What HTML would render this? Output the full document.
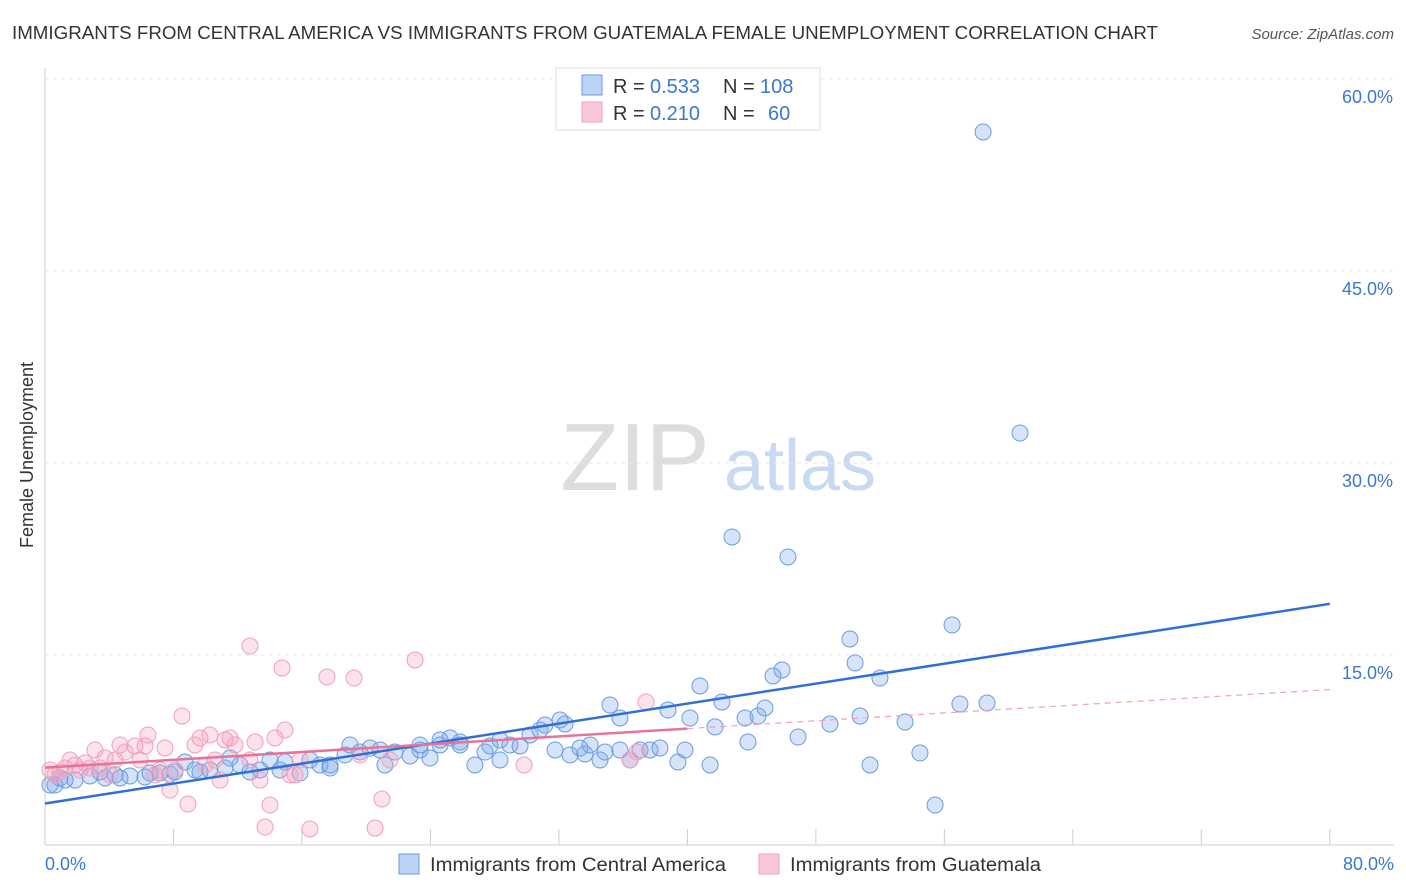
<!DOCTYPE html>
<html><head><meta charset="utf-8">
<style>
body{margin:0;background:#fff;font-family:"Liberation Sans",sans-serif;}
#wrap{position:relative;width:1406px;height:892px;overflow:hidden;}
svg text{font-family:"Liberation Sans",sans-serif;}
</style></head>
<body>
<div id="wrap">
<svg id="chart" width="1406" height="892">
<text x="12" y="39" font-size="18" fill="#333" textLength="1146" lengthAdjust="spacingAndGlyphs">IMMIGRANTS FROM CENTRAL AMERICA VS IMMIGRANTS FROM GUATEMALA FEMALE UNEMPLOYMENT CORRELATION CHART</text>
<text x="1394" y="39" font-size="15" fill="#555" font-style="italic" text-anchor="end">Source: ZipAtlas.com</text>
<text x="33" y="455" font-size="18" fill="#333" text-anchor="middle" transform="rotate(-90 33 455)">Female Unemployment</text>
<g><text x="635" y="490" font-size="96" fill="#ddd" font-family="Liberation Serif" text-anchor="middle">ZIP</text><text x="800" y="490" font-size="72" fill="#c8daf2" text-anchor="middle">atlas</text></g>
<g id="grid"></g><g id="marks"></g><g id="lines"></g>
<g>
<rect x="556" y="68" width="264" height="62" fill="#fff" stroke="#ddd"/>
<rect x="582" y="75" width="20" height="20" fill="#bcd3f5" stroke="#6b9be0"/>
<rect x="582" y="102" width="20" height="20" fill="#f9c8d6" stroke="#f0a0b8"/>
<text x="613" y="93" font-size="20" fill="#333">R =</text><text x="650" y="93" font-size="20" fill="#3a78d4">0.533</text>
<text x="723" y="93" font-size="20" fill="#333">N =</text><text x="760" y="93" font-size="20" fill="#3a78d4">108</text>
<text x="613" y="120" font-size="20" fill="#333">R =</text><text x="650" y="120" font-size="20" fill="#3a78d4">0.210</text>
<text x="723" y="120" font-size="20" fill="#333">N =</text><text x="768" y="120" font-size="20" fill="#3a78d4">60</text>
</g>
<g>
<rect x="399" y="854" width="20" height="20" fill="#bcd3f5" stroke="#6b9be0"/>
<text x="430" y="871" font-size="19" fill="#333" textLength="296" lengthAdjust="spacingAndGlyphs">Immigrants from Central America</text>
<rect x="759" y="854" width="20" height="20" fill="#f9c8d6" stroke="#f0a0b8"/>
<text x="790" y="871" font-size="19" fill="#333" textLength="251" lengthAdjust="spacingAndGlyphs">Immigrants from Guatemala</text>
</g>
</svg>
</div>
<script>
const xTicks=[0,8,16,24,32,40,48,56,64,72,80];
const yTicks=[15,30,45,60];
const blueFit=[3.4,19.0];
const pinkFit=[6.2,12.3];
const bluePx=[[55,785],[60,778],[75,780],[90,776],[105,778],[115,775],[130,776],[145,777],[160,773],[170,774],[185,762],[195,770],[210,770],[225,768],[240,765],[250,772],[260,770],[270,760],[285,762],[300,773],[310,760],[320,765],[330,768],[345,755],[360,752],[370,748],[385,765],[395,752],[410,756],[420,750],[430,758],[440,745],[450,738],[460,742],[475,765],[485,752],[490,746],[500,760],[510,745],[520,746],[530,735],[540,730],[545,725],[555,750],[565,724],[570,755],[585,754],[590,745],[600,760],[605,752],[610,705],[620,718],[630,760],[640,750],[650,750],[660,748],[668,710],[678,762],[685,750],[690,718],[700,686],[710,765],[715,727],[722,702],[732,537],[745,718],[748,742],[758,716],[765,708],[773,676],[782,670],[788,557],[798,737],[830,724],[850,639],[855,663],[860,716],[870,765],[880,678],[905,722],[920,753],[935,805],[952,625],[960,704],[983,132],[987,703],[1020,433],[500,740],[420,745],[350,745],[380,750],[440,740],[460,745],[560,720],[580,748],[620,750],[330,765],[280,770],[230,758],[200,772],[175,772],[150,773],[120,778],[100,772],[65,780],[50,785]];
const pinkPx=[[50,770],[55,775],[60,772],[65,768],[70,760],[75,765],[80,770],[85,763],[95,750],[100,768],[105,758],[110,775],[115,760],[125,752],[135,746],[140,760],[145,746],[148,735],[155,775],[160,770],[165,748],[170,790],[175,770],[182,716],[188,804],[195,745],[200,738],[205,765],[210,735],[215,760],[220,780],[225,740],[230,738],[235,745],[250,646],[255,742],[260,780],[265,827],[270,805],[275,738],[282,668],[285,730],[290,775],[295,775],[300,760],[310,829],[327,677],[354,678],[360,755],[375,828],[382,799],[390,760],[415,660],[524,765],[630,760],[637,752],[646,702],[250,760],[120,745],[90,768]];
const blueX=bluePx.map(p=>+((p[0]-45)/16.06).toFixed(2));
const blueY=bluePx.map(p=>+((847-p[1])/12.8).toFixed(2));
const pinkX=pinkPx.map(p=>+((p[0]-45)/16.06).toFixed(2));
const pinkY=pinkPx.map(p=>+((847-p[1])/12.8).toFixed(2));
const X=v=>45+v*16.06, Y=v=>847-v*12.8;
const NS='http://www.w3.org/2000/svg';
function mk(t,a,p){const e=document.createElementNS(NS,t);for(const k in a)e.setAttribute(k,a[k]);p.appendChild(e);return e;}
const g=document.getElementById('grid');
mk('line',{x1:45,y1:68,x2:45,y2:845,stroke:'#ccc'},g);
mk('line',{x1:45,y1:845,x2:1394,y2:845,stroke:'#ccc'},g);
yTicks.forEach(v=>{
 const l=mk('line',{x1:45,y1:Y(v),x2:1394,y2:Y(v),stroke:'#e6e6e6','stroke-dasharray':'4,4'},g);
 
 
 const t=mk('text',{x:1393,y:Y(v)+24,'font-size':18,fill:'#3a78d4','text-anchor':'end'},g);
 t.textContent=v.toFixed(1)+'%';
 
 
});
xTicks.forEach(v=>{
 const l=mk('line',{x1:X(v),y1:829,x2:X(v),y2:845,stroke:'#ccc'},g);
 
 
});
[[0,'start',45],[80,'end',1394]].forEach(([v,a,x])=>{
 const t=mk('text',{x:x,y:870,'font-size':18,fill:'#3a78d4','text-anchor':a},g);
 t.textContent=v.toFixed(1)+'%';
 
 
});
const m=document.getElementById('marks');
blueX.forEach((x,i)=>{
 const c=mk('circle',{cx:X(x),cy:Y(blueY[i]),r:8,fill:'rgba(120,165,235,0.3)',stroke:'#6b9be0','stroke-width':1},m);
 
 
});
pinkX.forEach((x,i)=>{
 const c=mk('circle',{cx:X(x),cy:Y(pinkY[i]),r:8,fill:'rgba(245,160,190,0.3)',stroke:'#f0a0b8','stroke-width':1},m);
 
 
});
const L=document.getElementById('lines');
const bl=mk('line',{x1:X(0),y1:Y(blueFit[0]),x2:X(80),y2:Y(blueFit[1]),stroke:'#2f6fd6','stroke-width':2.5},L);


const pAt=v=>pinkFit[0]+(pinkFit[1]-pinkFit[0])*v/80;
const pl=mk('line',{x1:X(0),y1:Y(pAt(0)),x2:X(40),y2:Y(pAt(40)),stroke:'#e8739a','stroke-width':2.5},L);


const pd=mk('line',{x1:X(40),y1:Y(pAt(40)),x2:X(80),y2:Y(pAt(80)),stroke:'#f0a0b8','stroke-width':1.2,'stroke-dasharray':'6,5'},L);


</script>
</body></html>
